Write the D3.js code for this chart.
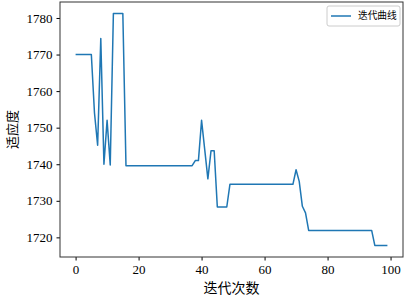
<!DOCTYPE html>
<html lang="zh">
<head>
<meta charset="UTF-8">
<title>迭代曲线</title>
<script src="https://d3js.org/d3.v7.min.js"></script>
<style>
    body { margin: 0; background: #fff; }
    .cjk { font-family: "Noto Sans CJK SC", sans-serif; fill: #000; }
    svg .tick text { font-family: "Liberation Serif", serif !important; font-size: 13px; }
</style>
</head>
<body>
<svg id="chart" width="408" height="297"></svg>
<script>
// fitness per iteration
const iterations = d3.range(0, 100);
const fitness = [
    1770, 1770, 1770, 1770, 1770, 1770, 1754, 1745.2, 1774.4, 1740,
    1752, 1739.8, 1781.2, 1781.2, 1781.2, 1781.2, 1739.6, 1739.6, 1739.6, 1739.6,
    1739.6, 1739.6, 1739.6, 1739.6, 1739.6, 1739.6, 1739.6, 1739.6, 1739.6, 1739.6,
    1739.6, 1739.6, 1739.6, 1739.6, 1739.6, 1739.6, 1739.6, 1739.6, 1741, 1741,
    1752, 1744, 1736, 1743.7, 1743.7, 1728.3, 1728.3, 1728.3, 1728.3, 1734.5,
    1734.5, 1734.5, 1734.5, 1734.5, 1734.5, 1734.5, 1734.5, 1734.5, 1734.5, 1734.5,
    1734.5, 1734.5, 1734.5, 1734.5, 1734.5, 1734.5, 1734.5, 1734.5, 1734.5, 1734.5,
    1738.5, 1735.3, 1728.5, 1726.7, 1721.9, 1721.9, 1721.9, 1721.9, 1721.9, 1721.9,
    1721.9, 1721.9, 1721.9, 1721.9, 1721.9, 1721.9, 1721.9, 1721.9, 1721.9, 1721.9,
    1721.9, 1721.9, 1721.9, 1721.9, 1721.9, 1717.8, 1717.8, 1717.8, 1717.8, 1717.8
];
const xTicks = [0, 20, 40, 60, 80, 100];
const yTicks = [1720, 1730, 1740, 1750, 1760, 1770, 1780];
const xLabel = "迭代次数";
const yLabel = "适应度";
const legendLabel = "迭代曲线";

const svg = d3.select("#chart");
const plotLeft = 60, plotRight = 403, plotTop = 2, plotBottom = 257;

// matplotlib-style 5% padding around the data
const xPad = (d3.max(iterations) - d3.min(iterations)) * 0.05;
const yPad = (d3.max(fitness) - d3.min(fitness)) * 0.05;

const x = d3.scaleLinear()
    .domain([d3.min(iterations) - xPad, d3.max(iterations) + xPad])
    .range([plotLeft, plotRight]);
const y = d3.scaleLinear()
    .domain([d3.min(fitness) - yPad, d3.max(fitness) + yPad])
    .range([plotBottom, plotTop]);

function styleAxis(g) {
    g.select(".domain").remove();
    g.attr("font-family", null).attr("font-size", null);
    g.selectAll(".tick text").attr("fill", "#000");
    g.selectAll(".tick line").attr("stroke", "#000");
}

// axes
svg.append("g")
    .attr("transform", `translate(0,${plotBottom})`)
    .call(d3.axisBottom(x).tickValues(xTicks).tickFormat(d3.format("d")).tickSize(3.5).tickPadding(4))
    .call(styleAxis);

svg.append("g")
    .attr("transform", `translate(${plotLeft},0)`)
    .call(d3.axisLeft(y).tickValues(yTicks).tickFormat(d3.format("d")).tickSize(3.5).tickPadding(4))
    .call(styleAxis);

// frame
svg.append("rect")
    .attr("x", plotLeft).attr("y", plotTop)
    .attr("width", plotRight - plotLeft).attr("height", plotBottom - plotTop)
    .attr("fill", "none").attr("stroke", "#333").attr("stroke-width", 1);

// curve
const line = d3.line()
    .x((d, i) => x(iterations[i]))
    .y(d => y(d));

svg.append("path")
    .datum(fitness)
    .attr("fill", "none")
    .attr("stroke", "#1f77b4")
    .attr("stroke-width", 1.5)
    .attr("stroke-linejoin", "round")
    .attr("d", line);

// axis labels
svg.append("text")
    .attr("class", "cjk")
    .attr("x", (plotLeft + plotRight) / 2)
    .attr("y", 293)
    .attr("text-anchor", "middle")
    .attr("font-size", 14)
    .text(xLabel);

svg.append("text")
    .attr("class", "cjk")
    .attr("transform", `translate(17,${(plotTop + plotBottom) / 2}) rotate(-90)`)
    .attr("text-anchor", "middle")
    .attr("font-size", 13)
    .text(yLabel);

// legend
const lg = svg.append("g").attr("transform", "translate(327,6)");
lg.append("rect")
    .attr("width", 73).attr("height", 20).attr("rx", 2)
    .attr("fill", "#fff").attr("stroke", "#ccc");
lg.append("line")
    .attr("x1", 4).attr("x2", 24).attr("y1", 10).attr("y2", 10)
    .attr("stroke", "#1f77b4").attr("stroke-width", 1.5);
lg.append("text")
    .attr("class", "cjk")
    .attr("x", 31).attr("y", 10)
    .attr("dy", "0.35em")
    .attr("font-size", 9.7)
    .text(legendLabel);
</script>
</body>
</html>
